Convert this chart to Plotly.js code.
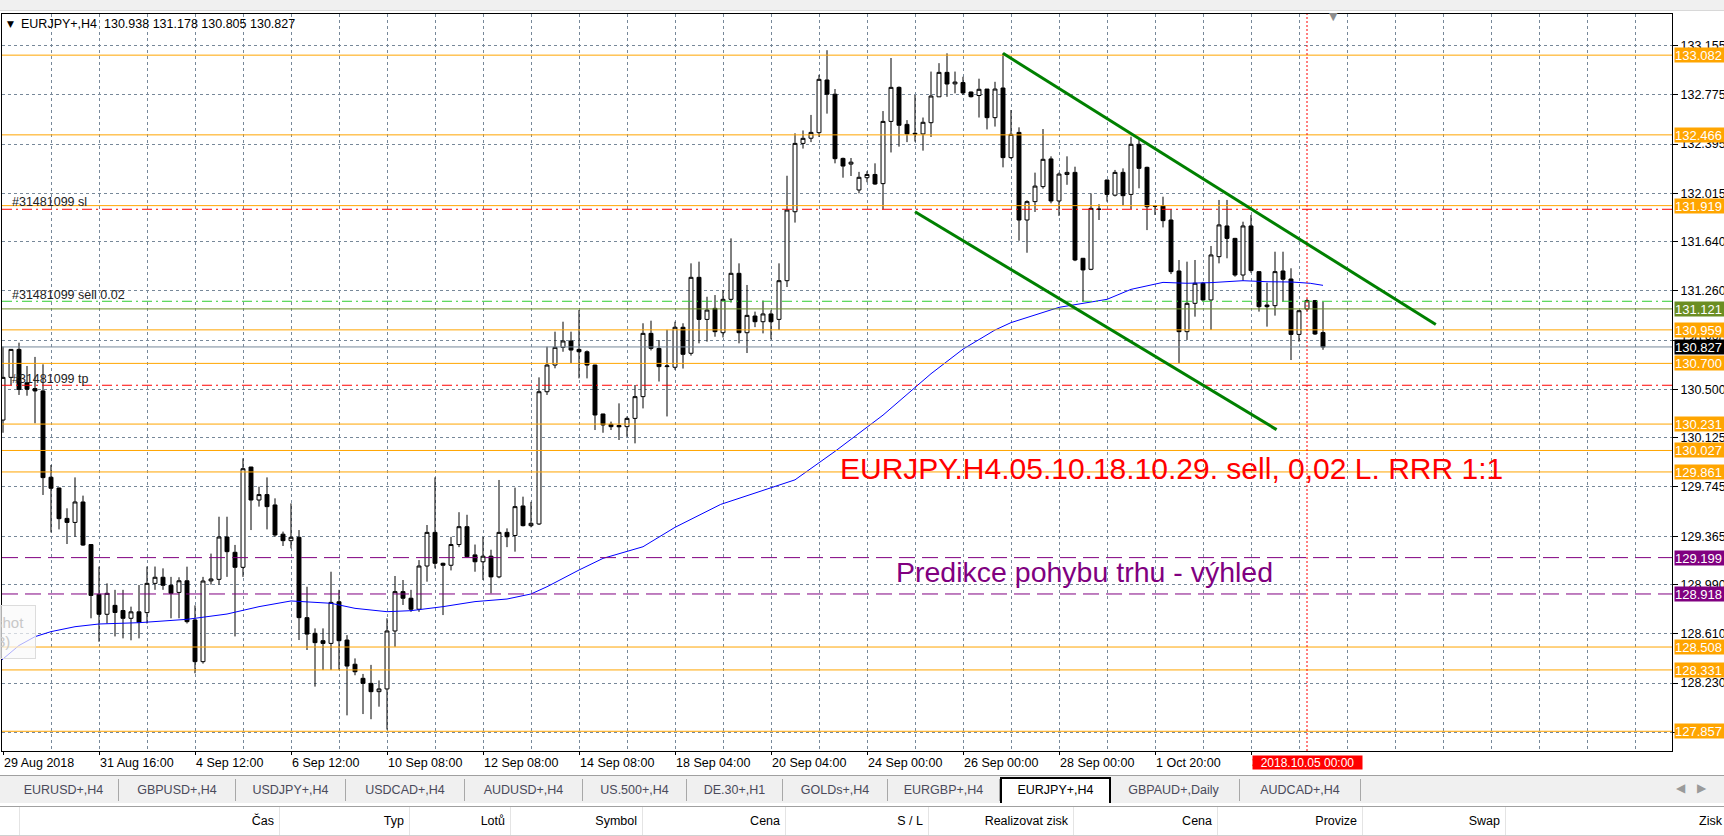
<!DOCTYPE html>
<html><head><meta charset="utf-8">
<script src="https://cdn.plot.ly/plotly-3.0.1.min.js"></script>
<style>
body{margin:0;width:1724px;height:836px;overflow:hidden;background:#fff;font-family:"Liberation Sans",Arial,sans-serif;}
#chart{position:absolute;left:0;top:0;width:1724px;height:836px;}
#toolbar{position:absolute;left:0;top:0;width:1724px;height:10px;background:#f0f0f0;border-bottom:1px solid #d8d8d8;}
#tabs{position:absolute;left:0;top:775px;width:1724px;height:27px;background:#f0f0f0;border-top:1px solid #a0a0a0;}
.tab{position:absolute;top:3px;height:22px;line-height:22px;font-size:12.5px;color:#4a4a5a;text-align:center;border-right:1px solid #a8a8a8;}
.tab.active{top:1px;height:24px;background:#fff;color:#000;border:2px solid #000;border-bottom:none;}
#hdr{position:absolute;left:0;top:806px;width:1724px;height:28px;background:#fff;border-top:1px solid #a0a0a0;border-bottom:1px solid #d0d0d0;}
.col{position:absolute;top:0;height:28px;line-height:28px;font-size:12.5px;color:#000;text-align:right;border-right:1px solid #e4e4e4;box-sizing:border-box;padding-right:5px;}
#snap{position:absolute;left:0;top:605px;width:34px;height:52px;border:1px solid #dcdcdc;background:rgba(250,250,250,0.7);color:#c8c8c8;font-size:15px;overflow:hidden;}
#arrows{position:absolute;right:6px;top:781px;color:#9a9a9a;font-size:12px;letter-spacing:12px;}
</style></head><body>
<div id="chart"></div>
<div id="toolbar"></div>
<div id="snap"><div style="position:absolute;left:-6px;top:8px;">shot</div><div style="position:absolute;left:-4px;top:27px;">3)</div></div>
<div id="tabs"></div>
<div id="arrows">◀▶</div>
<div id="hdr"></div>
<script>
// ---------------- DATA ----------------
const barIdx = Array.from({length:166},(_,i)=>i);
const opens = [130.262,130.592,130.808,130.55,130.505,130.487,129.82,129.737,129.502,129.471,
129.629,129.30,128.915,128.761,128.83,128.79,128.73,128.78,128.774,129.00,
129.047,128.985,128.93,129.02,128.717,128.395,129.019,129.031,129.358,129.24,
129.124,129.899,129.644,129.686,129.606,129.38,129.33,129.356,128.735,128.614,
128.557,128.536,128.858,128.562,128.375,128.266,128.227,128.163,128.184,128.632,
128.936,128.885,128.80,129.134,129.394,129.155,129.14,129.30,129.438,129.22,
129.167,129.21,129.05,129.394,129.37,129.598,129.446,129.459,130.481,130.687,
130.824,130.873,130.808,130.79,130.687,130.309,130.229,130.22,130.211,130.275,
130.443,130.932,130.816,130.675,130.67,130.979,130.778,131.365,131.04,131.125,
130.937,131.195,131.396,130.937,131.066,131.022,131.082,131.04,131.339,131.872,
132.40,132.44,132.483,132.89,132.78,132.284,132.24,132.04,132.135,132.16,
132.089,132.57,132.833,132.547,132.478,132.473,132.56,132.76,132.949,132.86,
132.87,132.797,132.77,132.82,132.599,132.828,132.29,132.485,131.808,131.95,
132.066,132.28,131.955,132.16,132.176,131.512,131.427,131.893,132.117,132.0,
132.176,132.006,132.393,132.215,131.916,131.916,131.808,131.414,130.945,131.164,
131.319,131.19,131.525,131.762,131.666,131.383,131.762,131.409,131.151,131.146,
131.414,131.352,130.924,131.12,131.185,130.938];
const highs = [130.829,130.81,130.86,130.68,130.75,130.693,129.915,129.74,129.58,129.819,
129.678,129.30,129.129,129.00,128.95,128.95,128.82,128.987,129.13,129.13,
129.116,129.05,129.047,129.129,128.83,129.05,129.23,129.515,129.515,129.297,
129.966,129.90,129.747,129.819,129.657,129.40,129.618,129.412,128.974,128.652,
128.652,129.09,128.95,128.60,128.42,128.30,128.37,128.25,128.73,129.057,
129.026,128.95,129.18,129.451,129.819,129.16,129.36,129.55,129.53,129.30,
129.36,129.26,129.799,129.425,129.74,129.67,129.63,130.592,130.829,130.945,
131.022,130.945,131.112,130.80,130.69,130.31,130.25,130.391,130.29,130.533,
131.01,131.03,130.88,130.96,131.022,131.01,131.473,131.486,131.215,131.228,
131.267,131.666,131.473,131.306,131.10,131.185,131.11,131.473,132.15,132.478,
132.50,132.62,132.93,133.12,132.82,132.29,132.287,132.18,132.185,132.246,
132.65,133.06,132.84,132.58,132.774,132.60,132.955,133.02,133.096,132.955,
132.915,132.80,132.90,132.82,132.876,133.096,132.658,132.524,131.96,132.174,
132.511,132.30,132.175,132.30,132.22,131.515,132.014,131.93,132.12,132.195,
132.207,132.452,132.426,132.22,131.924,131.988,131.89,131.499,131.486,131.499,
131.33,131.607,131.963,131.963,131.67,131.795,131.847,131.41,131.324,131.563,
131.563,131.435,131.11,131.20,131.19,131.178];
const lows = [130.164,130.53,130.456,130.45,130.237,129.683,129.394,129.417,129.304,129.36,
129.29,128.73,128.549,128.69,128.59,128.575,128.56,128.575,128.69,128.95,
128.95,128.73,128.73,128.69,128.305,128.38,128.99,128.99,129.05,128.59,
129.05,129.412,129.593,129.417,129.36,129.289,129.27,128.562,128.485,128.202,
128.33,128.33,128.33,127.98,128.29,127.99,127.95,128.047,127.87,128.51,
128.833,128.78,128.78,129.013,129.116,128.755,129.10,129.28,129.20,129.09,
129.026,128.923,129.04,129.28,129.245,129.44,129.433,129.451,130.456,130.662,
130.79,130.70,130.584,130.584,130.185,130.164,130.185,130.108,130.133,130.082,
130.352,130.80,130.56,130.29,130.65,130.66,130.76,130.855,130.868,130.906,
130.90,131.17,130.855,130.78,130.98,130.932,130.885,130.958,131.29,131.788,
132.36,132.41,132.45,132.63,132.246,132.135,132.148,132.014,132.10,132.08,
131.89,132.33,132.375,132.41,132.414,132.344,132.45,132.76,132.76,132.787,
132.774,132.755,132.60,132.508,132.53,132.215,132.28,131.648,131.555,131.87,
132.05,131.937,131.84,132.08,131.49,131.177,131.42,131.808,131.95,131.99,
131.92,131.893,132.053,131.73,131.847,131.751,131.39,130.70,130.881,131.061,
131.18,130.958,131.473,131.512,131.37,131.339,131.40,131.10,130.984,131.069,
131.177,130.726,130.868,131.10,130.92,130.805];
const closes = [130.592,130.808,130.499,130.50,130.487,129.817,129.735,129.50,129.471,129.629,
129.296,128.907,128.761,128.923,128.775,128.73,128.78,128.70,129.00,129.047,
128.985,128.923,129.02,128.704,128.395,129.018,129.034,129.358,129.245,129.124,
129.886,129.644,129.686,129.593,129.374,129.33,129.356,128.735,128.608,128.542,
128.536,128.853,128.557,128.361,128.317,128.227,128.163,128.184,128.632,128.936,
128.885,128.80,129.134,129.394,129.155,129.14,129.30,129.438,129.206,129.167,
129.21,129.05,129.394,129.36,129.593,129.446,129.464,130.481,130.687,130.824,
130.873,130.803,130.79,130.687,130.301,130.224,130.211,130.21,130.275,130.443,
130.932,130.816,130.675,130.68,130.979,130.77,131.365,131.04,131.112,130.945,
131.195,131.396,130.937,131.071,131.022,131.082,131.022,131.339,131.885,132.40,
132.439,132.485,132.895,132.78,132.282,132.225,132.255,132.138,132.16,132.086,
132.57,132.833,132.54,132.473,132.473,132.563,132.766,132.949,132.859,132.874,
132.79,132.761,132.818,132.599,132.82,132.29,132.47,131.808,131.95,132.07,
132.277,131.955,132.163,132.176,131.499,131.422,131.898,131.89,132.006,132.176,
131.996,132.393,132.207,131.911,131.915,131.803,131.409,130.945,131.164,131.319,
131.19,131.538,131.77,131.666,131.383,131.762,131.417,131.138,131.138,131.409,
131.35,130.924,131.107,131.185,130.927,130.827];

// moving average (blue)
const maBars = [-0.4,2,4,6,9,12,17,23,28,32,36,41,44,48,51,55,59,63,66,68,72,75,80,84,89.7,95,99,104,110,116,120,124,126,132,138,141,145,148,151,155,158,161,163.4,165];
const maVals = [128.395,128.52,128.588,128.627,128.665,128.686,128.696,128.722,128.763,128.82,128.864,128.846,128.807,128.781,128.789,128.82,128.859,128.879,128.918,128.974,129.103,129.193,129.283,129.433,129.61,129.72,129.80,130.02,130.30,130.62,130.81,130.958,131.015,131.133,131.195,131.272,131.326,131.319,131.324,131.339,131.331,131.329,131.319,131.303];

// channel trend lines
const upperBars = [125.0, 179.1];
const upperPrices = [133.096, 131.0];
const lowerBars = [114.0, 159.2];
const lowerPrices = [131.872, 130.188];

// horizontal levels
const orangeLevels = [133.082,132.466,131.919,130.959,130.700,130.231,130.027,129.861,128.508,128.331,127.857];
const purpleLevels = [129.199,128.918];
const oliveLevel = 131.121;
const bidPrice = 130.827;
const slPrice = 131.891;
const entryPrice = 131.18;
const tpPrice = 130.531;
const markerBar = 163;
const markerLabel = "2018.10.05 00:00";
const shiftBar = 166.3;

// axes
const tickBars = [0,12,24,36,48,60,72,84,96,108,120,132,144,156];
const tickLabels = ["29 Aug 2018","31 Aug 16:00","4 Sep 12:00","6 Sep 12:00","10 Sep 08:00","12 Sep 08:00","14 Sep 08:00","18 Sep 04:00","20 Sep 04:00","24 Sep 00:00","26 Sep 00:00","28 Sep 00:00","1 Oct 20:00","3 Oct 20:00"];
const priceTicks = [133.155,132.775,132.395,132.015,131.640,131.260,130.880,130.500,130.125,129.745,129.365,128.990,128.610,128.230,127.850];
const priceTickText = priceTicks.map(v=>v.toFixed(3));

const headerText = "EURJPY+,H4\u00a0\u00a0130.938 131.178 130.805 130.827";
const orderId = "#31481099";
const bigRedText = "EURJPY.H4.05.10.18.10.29. sell, 0,02 L. RRR 1:1";
const bigRedPos = [146.0, 129.885];
const purpleText = "Predikce pohybu trhu - výhled";
const purplePos = [135.2, 129.09];

const tabNames = ["EURUSD+,H4","GBPUSD+,H4","USDJPY+,H4","USDCAD+,H4","AUDUSD+,H4","US.500+,H4","DE.30+,H1","GOLDs+,H4","EURGBP+,H4","EURJPY+,H4","GBPAUD+,Daily","AUDCAD+,H4"];
const colNames = ["","Čas","Typ","Lotů","Symbol","Cena","S / L","Realizovat zisk","Cena","Provize","Swap","Zisk"];

// ---------------- COLORS ----------------
const ORANGE = "#FFA500", PURPLE = "#800080", OLIVE = "#6B8E23", GRID = "#778899";

// ---------------- SHAPES ----------------
const shapes = [];
orangeLevels.forEach(p=>shapes.push({type:'line',xref:'paper',x0:0,x1:1,yref:'y',y0:p,y1:p,line:{color:ORANGE,width:1}}));
purpleLevels.forEach(p=>shapes.push({type:'line',xref:'paper',x0:0,x1:1,yref:'y',y0:p,y1:p,line:{color:PURPLE,width:1,dash:'16px,7px'}}));
shapes.push({type:'line',xref:'paper',x0:0,x1:1,yref:'y',y0:oliveLevel,y1:oliveLevel,line:{color:OLIVE,width:1}});
shapes.push({type:'line',xref:'paper',x0:0,x1:1,yref:'y',y0:bidPrice,y1:bidPrice,line:{color:GRID,width:1}});
shapes.push({type:'line',xref:'paper',x0:0,x1:1,yref:'y',y0:slPrice,y1:slPrice,line:{color:'#ff0000',width:1,dash:'10px,4px,2px,4px'}});
shapes.push({type:'line',xref:'paper',x0:0,x1:1,yref:'y',y0:tpPrice,y1:tpPrice,line:{color:'#ff0000',width:1,dash:'10px,4px,2px,4px'}});
shapes.push({type:'line',xref:'paper',x0:0,x1:1,yref:'y',y0:entryPrice,y1:entryPrice,line:{color:'#32CD32',width:1,dash:'10px,4px,2px,4px'}});
shapes.push({type:'line',xref:'x',x0:markerBar,x1:markerBar,yref:'paper',y0:0,y1:1,line:{color:'#ff0000',width:1,dash:'2px,2px'}});
shapes.push({type:'line',xref:'x',yref:'y',x0:upperBars[0],x1:upperBars[1],y0:upperPrices[0],y1:upperPrices[1],line:{color:'#008000',width:3}});
shapes.push({type:'line',xref:'x',yref:'y',x0:lowerBars[0],x1:lowerBars[1],y0:lowerPrices[0],y1:lowerPrices[1],line:{color:'#008000',width:3}});

// ---------------- ANNOTATIONS ----------------
const ann = [];
const F = "Liberation Sans, Arial, sans-serif";
function priceBox(p, bg){
  ann.push({xref:'paper',x:1,xanchor:'left',xshift:2,yref:'y',y:p,yanchor:'middle',
    text:p.toFixed(3),showarrow:false,bgcolor:bg,width:50,height:14,align:'left',borderpad:0,
    font:{family:F,size:13,color:'#ffffff'}});
}
orangeLevels.forEach(p=>priceBox(p,ORANGE));
purpleLevels.forEach(p=>priceBox(p,PURPLE));
priceBox(oliveLevel,OLIVE);
priceBox(bidPrice,'#000000');

ann.push({xref:'paper',x:0,xanchor:'left',xshift:3,yref:'paper',y:1,yanchor:'middle',yshift:-10,
  text:'▼',showarrow:false,font:{family:'DejaVu Sans',size:9,color:'#000'}});
ann.push({xref:'paper',x:0,xanchor:'left',xshift:17,yref:'paper',y:1,yanchor:'middle',yshift:-10,
  text:headerText,showarrow:false,font:{family:F,size:12.5,color:'#000'}});
ann.push({xref:'x',x:shiftBar,xanchor:'center',yref:'paper',y:1,yanchor:'middle',yshift:-2,
  text:'▼',showarrow:false,font:{family:'DejaVu Sans',size:11,color:'#8c8c8c'}});
ann.push({xref:'paper',x:0,xanchor:'left',xshift:8,yref:'y',y:slPrice,yanchor:'middle',yshift:7,
  text:orderId+' sl',showarrow:false,font:{family:F,size:12.5,color:'#222'}});
ann.push({xref:'paper',x:0,xanchor:'left',xshift:8,yref:'y',y:entryPrice,yanchor:'middle',yshift:6,
  text:orderId+' sell 0.02',showarrow:false,font:{family:F,size:12.5,color:'#222'}});
ann.push({xref:'paper',x:0,xanchor:'left',xshift:8,yref:'y',y:tpPrice,yanchor:'middle',yshift:6,
  text:orderId+' tp',showarrow:false,font:{family:F,size:12.5,color:'#222'}});
ann.push({xref:'x',x:bigRedPos[0],yref:'y',y:bigRedPos[1],xanchor:'center',yanchor:'middle',
  text:bigRedText,showarrow:false,font:{family:F,size:30,color:'#ff0000'}});
ann.push({xref:'x',x:purplePos[0],yref:'y',y:purplePos[1],xanchor:'center',yanchor:'middle',
  text:purpleText,showarrow:false,font:{family:F,size:28.5,color:PURPLE}});
ann.push({xref:'x',x:markerBar,xanchor:'center',yref:'paper',y:0,yanchor:'top',yshift:-4,
  text:markerLabel,showarrow:false,bgcolor:'#ff0000',width:109,height:13,borderpad:0,
  font:{family:F,size:12,color:'#ffffff'}});

// ---------------- TRACES ----------------
const candles = {type:'candlestick',x:barIdx,open:opens,high:highs,low:lows,close:closes,
  increasing:{line:{color:'#000',width:1},fillcolor:'#ffffff'},
  decreasing:{line:{color:'#000',width:1},fillcolor:'#000000'},
  whiskerwidth:0,hoverinfo:'skip',showlegend:false};
const ma = {type:'scatter',mode:'lines',x:maBars,y:maVals,line:{color:'#0000ff',width:1},hoverinfo:'skip',showlegend:false};

const minorX = [];
for(let b=6;b<=204;b+=6){ if(tickBars.indexOf(b)<0) minorX.push(b); }

const layout = {
  width:1724,height:836,margin:{l:2,r:52,t:14,b:85,pad:0},
  paper_bgcolor:'#fff',plot_bgcolor:'#fff',showlegend:false,
  xaxis:{type:'linear',range:[-0.125,208.625],tickmode:'array',tickvals:tickBars,ticktext:tickLabels,
    ticks:'outside',ticklen:3,tickcolor:'#000',ticklabelposition:'outside right',
    showgrid:true,gridcolor:GRID,griddash:'3px,3px',gridwidth:1,
    minor:{tickmode:'array',tickvals:minorX,showgrid:true,gridcolor:GRID,griddash:'3px,3px',gridwidth:1,ticks:''},
    showline:true,mirror:true,linecolor:'#000',linewidth:1,zeroline:false,
    rangeslider:{visible:false},tickfont:{family:F,size:12.5,color:'#000'},fixedrange:true},
  yaxis:{side:'right',range:[127.7045,133.400],tickmode:'array',tickvals:priceTicks,ticktext:priceTickText,
    ticks:'outside',ticklen:5,tickcolor:'#000',
    showgrid:true,gridcolor:GRID,griddash:'3px,3px',gridwidth:1,
    showline:true,mirror:true,linecolor:'#000',linewidth:1,zeroline:false,
    tickfont:{family:F,size:12.5,color:'#000'},fixedrange:true},
  shapes:shapes,annotations:ann
};
Plotly.newPlot('chart',[candles,ma],layout,{staticPlot:true,displayModeBar:false});

// ---------------- UI chrome ----------------
const tabEdges = [9,119,236,346,465,583,687,783,888,1000,1108,1240,1361];
const tabs = document.getElementById('tabs');
tabNames.forEach((n,i)=>{
  const d=document.createElement('div');
  d.className='tab'+(n==='EURJPY+,H4'?' active':'');
  d.style.left=tabEdges[i]+'px';
  d.style.width=(tabEdges[i+1]-tabEdges[i]-1)+'px';
  d.textContent=n; tabs.appendChild(d);
});
const colEdges = [0,20,280,410,511,643,786,929,1074,1218,1363,1506,1728];
const hdr=document.getElementById('hdr');
colNames.forEach((n,i)=>{
  const d=document.createElement('div');d.className='col';
  d.style.left=colEdges[i]+'px';d.style.width=(colEdges[i+1]-colEdges[i])+'px';
  d.textContent=n;hdr.appendChild(d);
});
</script>
</body></html>
